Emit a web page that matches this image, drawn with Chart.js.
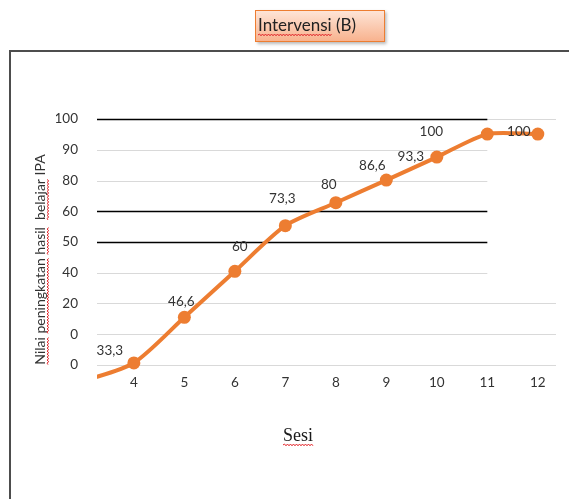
<!DOCTYPE html>
<html>
<head>
<meta charset="utf-8">
<script src="https://cdn.jsdelivr.net/npm/chart.js@4/dist/chart.umd.min.js"></script>
<style>
  html, body { margin: 0; padding: 0; background: #fff; }
  #wrap { position: relative; width: 569px; height: 499px; overflow: hidden; }
  #frame { position: absolute; left: 9px; top: 50px; width: 620px; height: 520px;
           border-left: 2px solid #4d4d4d; border-top: 2px solid #4d4d4d; }
  canvas { position: absolute; left: 0; top: 0; }
</style>
</head>
<body>
<div id="wrap">
  <div id="frame"></div>
  <canvas id="chart" width="569" height="499"></canvas>
</div>
<script>
// Scores per session (the session 3 point only carries the line in from the edge)
const sessions = [3, 4, 5, 6, 7, 8, 9, 10, 11, 12];
const scores = [28, 33.3, 46.6, 60, 73.3, 80, 86.6, 93.3, 100, 100];
const scoreLabels = ['', '33,3', '46,6', '60', '73,3', '80', '86,6', '93,3', '100', '100'];
const sessionTicks = [4, 5, 6, 7, 8, 9, 10, 11, 12];
const scoreTicks = ['100', '90', '80', '60', '50', '40', '20', '0', '0'];
const chartTitle = 'Intervensi (B)';
const xTitle = 'Sesi';
const yTitle = 'Nilai peningkatan hasil  belajar IPA';

const ORANGE = '#ED7D31';
const TEXT = '#333333';
const SANS = 'Lato, "Open Sans", sans-serif';

// Red wavy underline like a spell-check mark
function squiggle(ctx, x0, x1, y) {
  ctx.save();
  ctx.strokeStyle = '#e3262b';
  ctx.lineWidth = 1;
  ctx.beginPath();
  ctx.moveTo(x0, y);
  let up = true;
  for (let x = x0 + 1.5; x <= x1; x += 1.5) {
    ctx.lineTo(x, up ? y - 1 : y + 0.8);
    up = !up;
  }
  ctx.stroke();
  ctx.restore();
}

// Horizontal rules that stop at session 11; the full-width light grid comes from the axis
const rules = {
  id: 'rules',
  beforeDatasetsDraw(chart, args, opts) {
    const ctx = chart.ctx;
    const yl = chart.scales.yLab;
    const xs = chart.scales.x;
    const left = chart.chartArea.left;
    const right = xs.getPixelForValue(opts.endAt);
    ctx.save();
    opts.colors.forEach((col, i) => {
      const y = Math.round(yl.getPixelForTick(i)) + 0.5;
      ctx.strokeStyle = col;
      ctx.lineWidth = col === '#000' ? 1.3 : 1;
      ctx.beginPath();
      ctx.moveTo(left, y);
      ctx.lineTo(right, y);
      ctx.stroke();
    });
    ctx.restore();
  }
};

// Value labels beside each marker
const valueLabels = {
  id: 'valueLabels',
  afterDatasetsDraw(chart, args, opts) {
    const ctx = chart.ctx;
    const meta = chart.getDatasetMeta(0);
    ctx.save();
    ctx.font = '13.5px ' + SANS;
    ctx.fillStyle = TEXT;
    ctx.textAlign = 'center';
    ctx.textBaseline = 'middle';
    meta.data.forEach((pt, i) => {
      const txt = scoreLabels[i];
      if (!txt) return;
      const [dx, dy] = opts.offsets[i];
      ctx.fillText(txt, pt.x + dx, pt.y + dy);
    });
    ctx.restore();
  }
};

// Heading box and axis titles
const headings = {
  id: 'headings',
  afterDraw(chart) {
    const ctx = chart.ctx;
    ctx.save();
    // heading box
    const bx = 255, by = 10, bw = 130, bh = 32;
    ctx.shadowColor = 'rgba(0,0,0,0.28)';
    ctx.shadowBlur = 3;
    ctx.shadowOffsetX = 1.5;
    ctx.shadowOffsetY = 2;
    const g = ctx.createLinearGradient(0, by, 0, by + bh);
    g.addColorStop(0, '#fee6d9');
    g.addColorStop(1, '#f8b18c');
    ctx.fillStyle = g;
    ctx.fillRect(bx, by, bw, bh);
    ctx.shadowColor = 'transparent';
    ctx.strokeStyle = ORANGE;
    ctx.lineWidth = 1;
    ctx.strokeRect(bx + 0.5, by + 0.5, bw - 1, bh - 1);
    ctx.font = '17px ' + SANS;
    ctx.fillStyle = '#222';
    ctx.textAlign = 'left';
    ctx.textBaseline = 'alphabetic';
    ctx.fillText(chartTitle, 258, 31);
    squiggle(ctx, 258, 258 + ctx.measureText('Intervensi').width, 35);

    // x title
    ctx.font = '18px "Liberation Serif", "Times New Roman", serif';
    ctx.fillStyle = '#1a1a1a';
    const wx = ctx.measureText(xTitle).width;
    const x0 = 298 - wx / 2;
    ctx.fillText(xTitle, x0, 441);
    squiggle(ctx, x0, x0 + wx, 445);

    // y title, rotated
    ctx.translate(45, 259.5);
    ctx.rotate(-Math.PI / 2);
    ctx.font = '14px ' + SANS;
    ctx.fillStyle = TEXT;
    const wy = ctx.measureText(yTitle).width;
    const start = -wy / 2;
    ctx.fillText(yTitle, start, 0);
    ['Nilai', 'peningkatan', 'hasil', 'belajar'].forEach(word => {
      const at = yTitle.indexOf(word);
      const a = start + ctx.measureText(yTitle.slice(0, at)).width;
      const b = a + ctx.measureText(word).width;
      squiggle(ctx, a, b, 3);
    });
    ctx.restore();
  }
};

new Chart(document.getElementById('chart'), {
  type: 'line',
  data: {
    datasets: [{
      data: sessions.map((s, i) => ({ x: s, y: scores[i] })),
      borderColor: ORANGE,
      backgroundColor: ORANGE,
      borderWidth: 4,
      tension: 0.25,
      pointRadius: ctx => (scoreLabels[ctx.dataIndex] ? 6.5 : 0),
      pointHoverRadius: 0,
      pointBackgroundColor: ORANGE,
      pointBorderColor: ORANGE,
      pointBorderWidth: 0,
      clip: { left: 0, top: false, right: false, bottom: false },
      xAxisID: 'x',
      yAxisID: 'y'
    }]
  },
  options: {
    responsive: false,
    devicePixelRatio: 1,
    animation: false,
    layout: { padding: { left: 56, right: 13, top: 119, bottom: 104 } },
    plugins: {
      legend: { display: false },
      tooltip: { enabled: false },
      title: { display: false },
      rules: { endAt: 11, colors: ['#000', '#d9d9d9', '#d9d9d9', '#000', '#000', '#d9d9d9'] },
      valueLabels: {
        offsets: [[0, 0], [-24, -12], [-3, -16], [5, -25], [-3, -27], [-7, -18], [-14, -14], [-26, 0], [-56, -2], [-19, -2]]
      }
    },
    scales: {
      x: {
        type: 'linear',
        min: 3.27,
        max: 12.36,
        grid: { display: false, drawTicks: false },
        border: { display: false },
        afterBuildTicks: s => { s.ticks = sessionTicks.map(v => ({ value: v })); },
        ticks: { padding: 10, color: TEXT, font: { family: SANS, size: 13.5 }, autoSkip: false, maxRotation: 0 },
        afterFit: s => { s.height = 30; }
      },
      yLab: {
        type: 'category',
        labels: scoreTicks,
        position: 'left',
        offset: false,
        grid: {
          drawTicks: false,
          lineWidth: 1,
          color: c => ([0, 6, 7, 8].includes(c.index) ? '#d9d9d9' : 'rgba(0,0,0,0)')
        },
        border: { display: false },
        ticks: { padding: 19, color: TEXT, font: { family: SANS, size: 13.5 }, autoSkip: false },
        afterFit: s => { s.width = 41; }
      },
      y: {
        type: 'linear',
        display: false,
        min: 32.7,
        max: 104.4
      }
    }
  },
  plugins: [rules, valueLabels, headings]
});
</script>
</body>
</html>
